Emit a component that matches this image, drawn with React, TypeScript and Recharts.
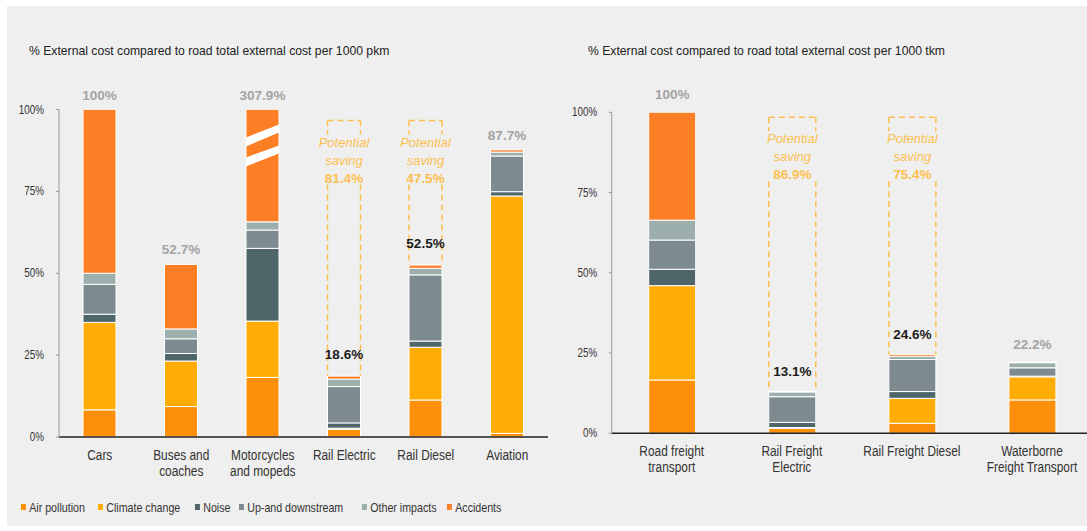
import { BarChart, Bar, XAxis, YAxis, LabelList } from 'recharts';

// series (stack order bottom -> top)
const seriesKeys = ['air', 'climate', 'noise', 'updown', 'other', 'accidents'];
const seriesNames = ['Air pollution', 'Climate change', 'Noise', 'Up-and downstream', 'Other impacts', 'Accidents'];
const seriesColors = ['#fd8f0b', '#ffad04', '#4e656a', '#7d8b90', '#9dafac', '#fc7e25'];

// passenger transport, % of road (cars) per 1000 pkm
const leftCategories = ['Cars', 'Buses and\ncoaches', 'Motorcycles\nand mopeds', 'Rail Electric', 'Rail Diesel', 'Aviation'];
const leftAir = [8.3, 9.3, 18.2, 2.3, 11.3, 1.1];
const leftClimate = [26.7, 13.9, 17.2, 0.4, 16.1, 72.5];
const leftNoise = [2.5, 2.3, 22.2, 1.6, 1.9, 1.3];
const leftUpDown = [9.1, 4.5, 5.6, 11.1, 20.2, 10.9];
const leftOther = [3.4, 3.0, 2.5, 2.3, 2.0, 1.2];
const leftAccidents = [50.0, 19.7, 34.3, 0.9, 1.0, 0.7]; // motorcycles capped at 100% (axis break)
const leftTotals = [100, 52.7, 307.9, 18.6, 52.5, 87.7];
const leftSaving = [0, 0, 0, 81.4, 47.5, 0];
const leftBroken = [false, false, true, false, false, false];

// freight transport, % of road freight per 1000 tkm
const rightCategories = ['Road freight\ntransport', 'Rail Freight\nElectric', 'Rail Freight Diesel', 'Waterborne\nFreight Transport'];
const rightAir = [16.6, 1.5, 3.1, 10.4];
const rightClimate = [29.4, 0.3, 7.8, 7.2];
const rightNoise = [5.1, 1.6, 2.1, 0.2];
const rightUpDown = [9.1, 8.0, 10.0, 2.6];
const rightOther = [6.2, 1.5, 1.0, 1.6];
const rightAccidents = [33.6, 0.2, 0.6, 0.2];
const rightTotals = [100, 13.1, 24.6, 22.2];
const rightSaving = [0, 86.9, 75.4, 0];
const rightBroken = [false, false, false, false];

const yTicks = [0, 25, 50, 75, 100];

// no narrow face installed, so condensed text is Liberation Sans squeezed horizontally
const SANS = "'Liberation Sans', Arial, sans-serif";
const SQUEEZE = 0.82;
const SAVING_COLOR = '#fcbf4f';

const buildRows = (cats: string[], air: number[], climate: number[], noise: number[], updown: number[],
  other: number[], accidents: number[], totals: number[], saving: number[], broken: boolean[]) =>
  cats.map((name, i) => ({
    name,
    air: air[i],
    climate: climate[i],
    noise: noise[i],
    updown: updown[i],
    other: other[i],
    accidents: accidents[i],
    total: totals[i],
    saving: saving[i],
    broken: broken[i],
  }));

const leftData = buildRows(leftCategories, leftAir, leftClimate, leftNoise, leftUpDown, leftOther,
  leftAccidents, leftTotals, leftSaving, leftBroken);
const rightData = buildRows(rightCategories, rightAir, rightClimate, rightNoise, rightUpDown, rightOther,
  rightAccidents, rightTotals, rightSaving, rightBroken);

const CategoryTick = (props: any) => {
  const { x, y, payload } = props;
  const lines = String(payload.value).split('\n');
  return (
    <g>
      {lines.map((line, i) => (
        <text key={i} transform={`translate(${x},${y + 23 + i * 16}) scale(${SQUEEZE},1)`} textAnchor="middle"
          fontFamily={SANS} fontSize={14.5} fill="#333">
          {line}
        </text>
      ))}
    </g>
  );
};

const PercentTick = (props: any) => {
  const { x, y, payload } = props;
  return (
    <text transform={`translate(${x},${y + 4}) scale(${SQUEEZE},1)`} textAnchor="end" fontFamily={SANS}
      fontSize={12} fill="#333">
      {`${payload.value}%`}
    </text>
  );
};

// top segment, with white break stripes for the truncated bar
const AccidentShape = (props: any) => {
  const { x, y, width, height, payload, fill } = props;
  if (!height || height <= 0) return <g />;
  return (
    <g>
      <rect x={x} y={y} width={width} height={height} fill={fill} stroke="#fff" strokeWidth={1} />
      {payload && payload.broken && (
        <g fill="#fff">
          <polygon points={`${x},${y + 28} ${x + width},${y + 15} ${x + width},${y + 23} ${x},${y + 37}`} />
          <polygon points={`${x},${y + 48} ${x + width},${y + 36} ${x + width},${y + 44} ${x},${y + 57}`} />
        </g>
      )}
    </g>
  );
};

const makeSavingBox = (inset: number) => (props: any) => {
  const { x, y, width, height, payload } = props;
  if (!payload || !payload.saving || height <= 0) return <g />;
  const top = y + inset;
  const bottom = y + height;
  const cx = x + width / 2;
  const d = `M${x},${top} H${x + width} M${x},${top} V${top + 14} M${x},${top + 64} V${bottom} `
    + `M${x + width},${top} V${top + 14} M${x + width},${top + 64} V${bottom}`;
  return (
    <g>
      <path d={d} fill="none" stroke={SAVING_COLOR} strokeWidth={1.5} strokeDasharray="6 4" />
      <text x={cx} y={top + 26} textAnchor="middle" fontFamily={SANS} fontStyle="italic" fontSize={13} fill={SAVING_COLOR}>
        Potential
      </text>
      <text x={cx} y={top + 44} textAnchor="middle" fontFamily={SANS} fontStyle="italic" fontSize={13} fill={SAVING_COLOR}>
        saving
      </text>
      <text x={cx} y={top + 62} textAnchor="middle" fontFamily={SANS} fontWeight="bold" fontSize={13.5} fill={SAVING_COLOR}>
        {payload.saving.toFixed(1)}%
      </text>
    </g>
  );
};

const makeTotalLabel = (rows: any[], grayOffset: number, darkOffset: number) => (props: any) => {
  const { x, y, width, index } = props;
  const row = rows[index];
  if (!row) return null;
  const dark = row.saving > 0;
  const text = row.total === 100 ? '100%' : `${row.total.toFixed(1)}%`;
  return (
    <text
      x={x + width / 2}
      y={y - (dark ? darkOffset : grayOffset)}
      textAnchor="middle"
      fontFamily={SANS}
      fontWeight="bold"
      fontSize={13.5}
      fill={dark ? '#1b1b1b' : '#a3a3a3'}
    >
      {text}
    </text>
  );
};

const StackChart = ({ data, width, margin, yWidth, tickMargin, barSize, inset, grayOffset, darkOffset }: any) => (
  <BarChart width={width} height={531} data={data} margin={margin} barCategoryGap={0}>
    <XAxis
      dataKey="name"
      height={40}
      axisLine={{ stroke: '#222', strokeWidth: 1.5 }}
      tickLine={false}
      tickSize={0}
      tickMargin={0}
      interval={0}
      tick={<CategoryTick />}
    />
    <YAxis
      width={yWidth}
      domain={[0, 100]}
      ticks={yTicks}
      allowDataOverflow
      axisLine={{ stroke: '#9a9a9a' }}
      tickLine={{ stroke: '#9a9a9a' }}
      tickSize={3}
      tickMargin={tickMargin}
      tick={<PercentTick />}
    />
    {seriesKeys.map((key, i) =>
      key === 'accidents' ? (
        <Bar key={key} dataKey={key} stackId="a" fill={seriesColors[i]} barSize={barSize}
          shape={<AccidentShape />} isAnimationActive={false}>
          <LabelList dataKey="total" content={makeTotalLabel(data, grayOffset, darkOffset)} />
        </Bar>
      ) : (
        <Bar key={key} dataKey={key} stackId="a" fill={seriesColors[i]} barSize={barSize}
          stroke="#fff" strokeWidth={1} isAnimationActive={false} />
      )
    )}
    <Bar dataKey="saving" stackId="a" fill="none" barSize={barSize} shape={makeSavingBox(inset)}
      isAnimationActive={false} />
  </BarChart>
);

const legendLeft = [21, 98, 195, 239, 362, 447];

export default function App() {
  return (
    <div style={{ position: 'absolute', left: 0, top: 0, width: 1087, height: 531, overflow: 'hidden', background: '#fff' }}>
      <div style={{ position: 'absolute', left: 7, top: 6, right: 0, bottom: 5, background: '#efefef' }} />
      <div style={{ position: 'absolute', left: 29, top: 44, fontFamily: SANS, fontSize: 12.2, color: '#222', whiteSpace: 'nowrap' }}>
        % External cost compared to road total external cost per 1000 pkm
      </div>
      <div style={{ position: 'absolute', left: 588, top: 44, fontFamily: SANS, fontSize: 12.2, color: '#222', whiteSpace: 'nowrap' }}>
        % External cost compared to road total external cost per 1000 tkm
      </div>
      <div style={{ position: 'absolute', left: 0, top: 0 }}>
        <StackChart
          data={leftData}
          width={560}
          margin={{ top: 109.5, right: 12, bottom: 54, left: 0 }}
          yWidth={59}
          tickMargin={12}
          barSize={33}
          inset={11}
          grayOffset={10}
          darkOffset={17}
        />
      </div>
      <div style={{ position: 'absolute', left: 560, top: 0 }}>
        <StackChart
          data={rightData}
          width={540}
          margin={{ top: 112.3, right: 8, bottom: 57.7, left: 0 }}
          yWidth={51.7}
          tickMargin={11.5}
          barSize={47}
          inset={5}
          grayOffset={13}
          darkOffset={15}
        />
      </div>
      {seriesNames.map((name, i) => (
        <div key={name} style={{ position: 'absolute', left: legendLeft[i], top: 499, display: 'flex', alignItems: 'center',
          fontFamily: SANS, fontSize: 13, color: '#333', whiteSpace: 'nowrap', height: 16,
          transform: `scaleX(${SQUEEZE})`, transformOrigin: 'left center' }}>
          <span style={{ display: 'inline-block', width: 6, height: 6, background: seriesColors[i], marginRight: 4 }} />
          {name}
        </div>
      ))}
    </div>
  );
}
